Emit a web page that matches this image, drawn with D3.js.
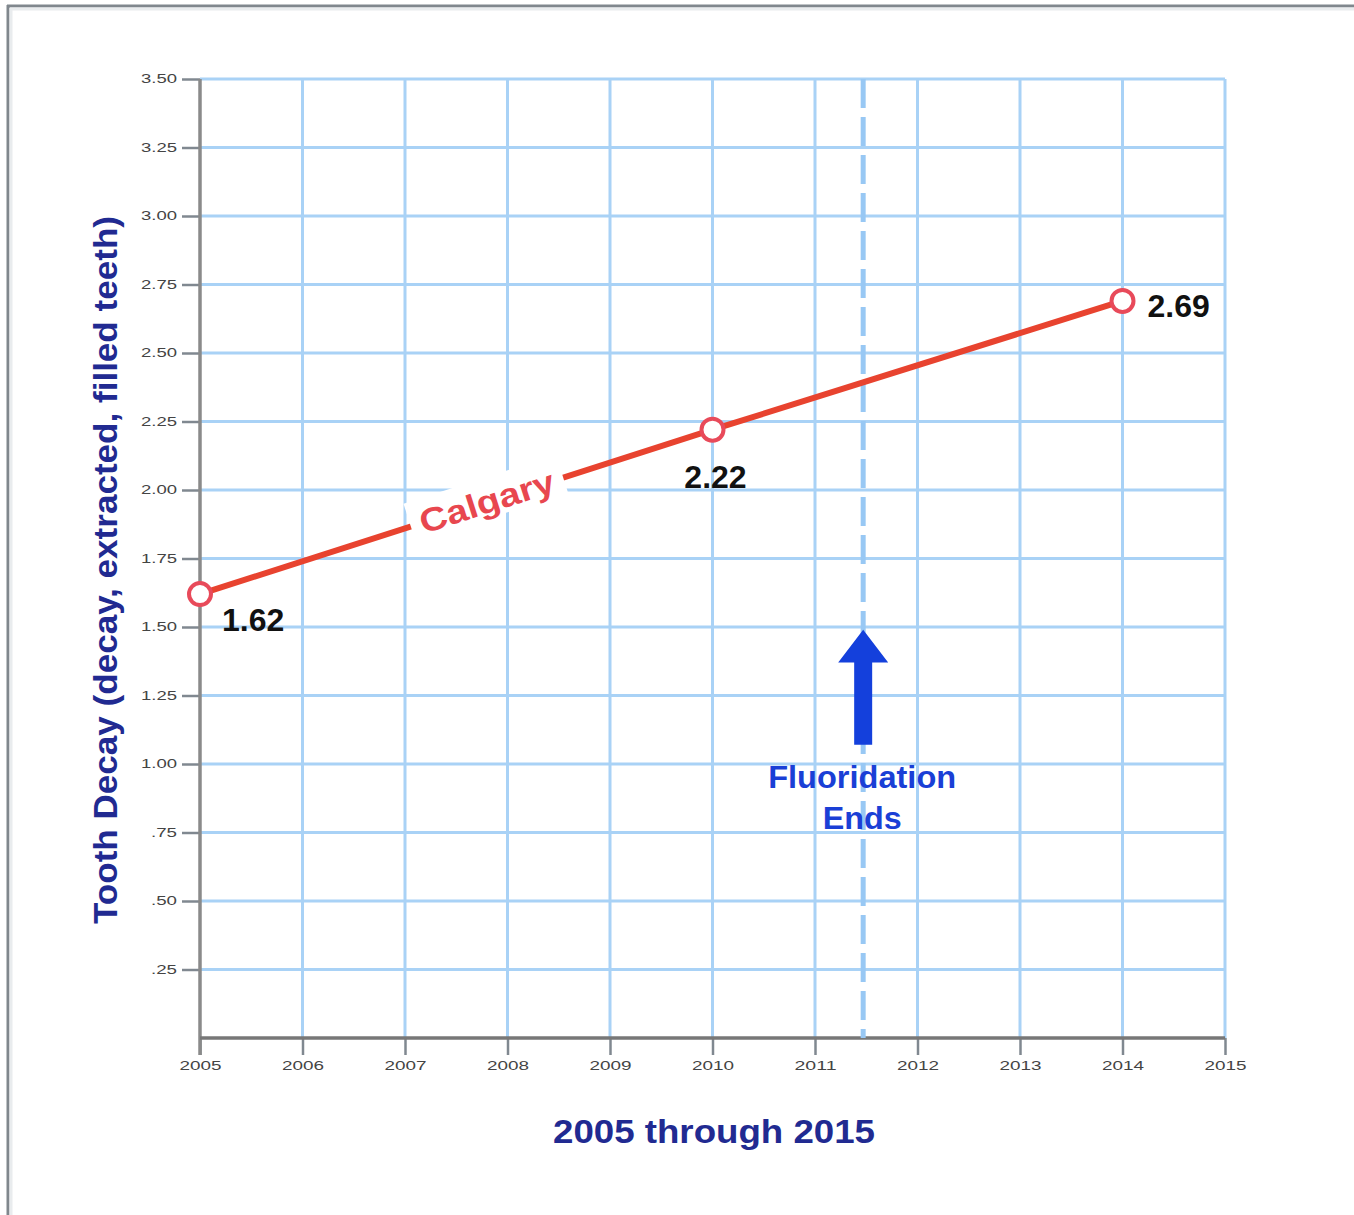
<!DOCTYPE html>
<html>
<head>
<meta charset="utf-8">
<script src="https://cdn.jsdelivr.net/npm/d3@7"></script>
<style>
  html, body { margin: 0; padding: 0; background: #fff; }
  svg { display: block; }
  text { font-family: "Liberation Sans", Arial, sans-serif; }
</style>
</head>
<body>
<svg id="chart" width="1354" height="1215"></svg>
<script>
// ---- data ----
const years = [2005, 2010, 2014];
const decayValues = [1.62, 2.22, 2.69];
const seriesName = "Calgary";
const xTickValues = [2005, 2006, 2007, 2008, 2009, 2010, 2011, 2012, 2013, 2014, 2015];
const yTickValues = [0.25, 0.5, 0.75, 1.0, 1.25, 1.5, 1.75, 2.0, 2.25, 2.5, 2.75, 3.0, 3.25, 3.5];
const fluoridationEndYear = 2011.47;
const eventLabel = ["Fluoridation", "Ends"];
const yTitle = "Tooth Decay (decay, extracted, filled teeth)";
const xTitle = "2005 through 2015";

// ---- layout ----
const svg = d3.select("#chart");
const pLeft = 200, pRight = 1225, pTop = 79, pBottom = 1038;

const x = d3.scaleLinear().domain([2005, 2015]).range([pLeft, pRight]);
const y = d3.scaleLinear().domain([0, 3.5]).range([pBottom, pTop]);

// frame
svg.append("line").attr("x1", 8).attr("x2", 8).attr("y1", 5).attr("y2", 1215)
  .attr("stroke", "#80878d").attr("stroke-width", 3);
svg.append("line").attr("x1", 7).attr("x2", 1354).attr("y1", 6).attr("y2", 6)
  .attr("stroke", "#80878d").attr("stroke-width", 3);
svg.append("line").attr("x1", 11).attr("x2", 11).attr("y1", 8).attr("y2", 1215)
  .attr("stroke", "#e9ecee").attr("stroke-width", 3);
svg.append("line").attr("x1", 10).attr("x2", 1354).attr("y1", 9).attr("y2", 9)
  .attr("stroke", "#e9ecee").attr("stroke-width", 3);

// grid
const grid = svg.append("g");
grid.selectAll("line.v").data(xTickValues.slice(1)).join("line")
  .attr("x1", d => x(d)).attr("x2", d => x(d))
  .attr("y1", pTop).attr("y2", pBottom)
  .attr("stroke", "#a9d2f6").attr("stroke-width", 3);
grid.selectAll("line.h").data(yTickValues).join("line")
  .attr("x1", pLeft).attr("x2", pRight)
  .attr("y1", d => y(d)).attr("y2", d => y(d))
  .attr("stroke", "#a9d2f6").attr("stroke-width", 3);

// axes
const yAxis = d3.axisLeft(y).tickValues(yTickValues).tickSize(18).tickPadding(5)
  .tickFormat(d => d >= 1 ? d.toFixed(2) : d.toFixed(2).slice(1));
const gy = svg.append("g").attr("transform", `translate(${pLeft},0)`).call(yAxis);
gy.select(".domain").remove();
gy.selectAll(".tick line").attr("stroke", "#808890").attr("stroke-width", 2.5);
gy.selectAll(".tick text").attr("fill", "#444").attr("font-size", 12)
  .attr("textLength", 36).attr("lengthAdjust", "spacingAndGlyphs");
gy.selectAll(".tick text").filter(d => d < 1).attr("textLength", 26);

const xAxis = d3.axisBottom(x).tickValues(xTickValues).tickSize(17).tickPadding(6)
  .tickFormat(d3.format("d"));
const gx = svg.append("g").attr("transform", `translate(0,${pBottom})`).call(xAxis);
gx.select(".domain").remove();
gx.selectAll(".tick line").attr("stroke", "#808890").attr("stroke-width", 2.5);
gx.selectAll(".tick text").attr("fill", "#444").attr("font-size", 12)
  .attr("textLength", 42).attr("lengthAdjust", "spacingAndGlyphs");

// axis lines
svg.append("line").attr("x1", pLeft).attr("x2", pLeft).attr("y1", pTop).attr("y2", pBottom + 17)
  .attr("stroke", "#8a8a8a").attr("stroke-width", 3.5);
svg.append("line").attr("x1", pLeft).attr("x2", pRight).attr("y1", pBottom).attr("y2", pBottom)
  .attr("stroke", "#777").attr("stroke-width", 3.5);

// dashed event line
svg.append("line")
  .attr("x1", x(fluoridationEndYear)).attr("x2", x(fluoridationEndYear))
  .attr("y1", pTop).attr("y2", pBottom)
  .attr("stroke", "#98c8f4").attr("stroke-width", 5)
  .attr("stroke-dasharray", "29 9");

// arrow
const ax = x(fluoridationEndYear);
const arrowTipVal = 1.49, arrowHeadBaseVal = 1.37, arrowTailVal = 1.07;
svg.append("path")
  .attr("d", `M${ax},${y(arrowTipVal)} L${ax + 25},${y(arrowHeadBaseVal)} L${ax + 9},${y(arrowHeadBaseVal)} L${ax + 9},${y(arrowTailVal)} L${ax - 9},${y(arrowTailVal)} L${ax - 9},${y(arrowHeadBaseVal)} L${ax - 25},${y(arrowHeadBaseVal)} Z`)
  .attr("fill", "#1440dc");

svg.append("text").attr("x", ax - 1).attr("y", 788)
  .attr("text-anchor", "middle").attr("font-weight", "bold").attr("font-size", 32)
  .attr("fill", "#1a3fd6").attr("textLength", 188).attr("lengthAdjust", "spacingAndGlyphs")
  .text(eventLabel[0]);
svg.append("text").attr("x", ax - 1).attr("y", 829)
  .attr("text-anchor", "middle").attr("font-weight", "bold").attr("font-size", 32)
  .attr("fill", "#1a3fd6").attr("textLength", 79).attr("lengthAdjust", "spacingAndGlyphs")
  .text(eventLabel[1]);

// series line
const pts = years.map((yr, i) => [x(yr), y(decayValues[i])]);
svg.append("path")
  .attr("d", d3.line()(pts))
  .attr("fill", "none").attr("stroke", "#e8432f").attr("stroke-width", 6);

// series label along the line
const p0 = pts[0], p1 = pts[1];
const angle = Math.atan2(p1[1] - p0[1], p1[0] - p0[0]) * 180 / Math.PI;
const lx = x(2007.8), ly = y(decayValues[0] + (decayValues[1] - decayValues[0]) * (2.8 / 5));
const lab = svg.append("g").attr("transform", `translate(${lx},${ly}) rotate(${angle})`);
lab.append("rect").attr("x", -80).attr("y", -24).attr("width", 160).attr("height", 40).attr("fill", "#fff");
lab.append("text").attr("x", 0).attr("y", 11).attr("text-anchor", "middle")
  .attr("font-weight", "bold").attr("font-size", 33).attr("fill", "#e8474f")
  .attr("textLength", 140).attr("lengthAdjust", "spacingAndGlyphs").text(seriesName);

// markers
svg.selectAll("circle.pt").data(pts).join("circle")
  .attr("cx", d => d[0]).attr("cy", d => d[1]).attr("r", 11)
  .attr("fill", "#fff").attr("stroke", "#e84a5a").attr("stroke-width", 4);

// value labels
const labelOffsets = [[22, 37, "start"], [3, 58, "middle"], [25, 16, "start"]];
svg.selectAll("text.val").data(pts).join("text")
  .attr("x", (d, i) => d[0] + labelOffsets[i][0])
  .attr("y", (d, i) => d[1] + labelOffsets[i][1])
  .attr("text-anchor", (d, i) => labelOffsets[i][2])
  .attr("font-weight", "bold").attr("font-size", 32).attr("fill", "#111")
  .text((d, i) => decayValues[i].toFixed(2));

// axis titles
svg.append("text")
  .attr("transform", `translate(117,570) rotate(-90)`)
  .attr("text-anchor", "middle").attr("font-weight", "bold").attr("font-size", 33)
  .attr("fill", "#212a91").attr("textLength", 708).attr("lengthAdjust", "spacingAndGlyphs")
  .text(yTitle);
svg.append("text").attr("x", 714).attr("y", 1143)
  .attr("text-anchor", "middle").attr("font-weight", "bold").attr("font-size", 33)
  .attr("fill", "#212a91").attr("textLength", 322).attr("lengthAdjust", "spacingAndGlyphs")
  .text(xTitle);
</script>
</body>
</html>
